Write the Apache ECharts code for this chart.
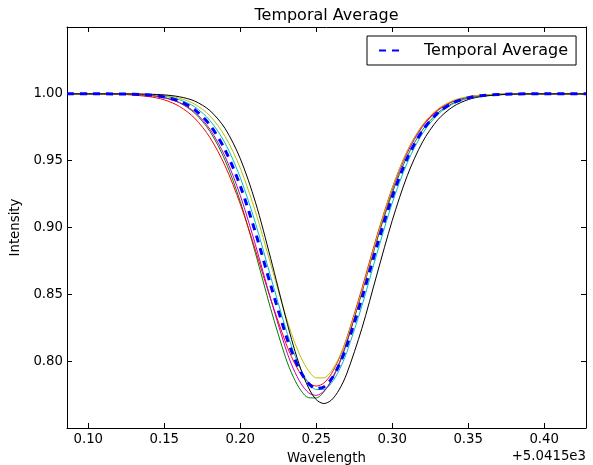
<!DOCTYPE html>
<html><head><meta charset="utf-8">
<script src="https://cdn.jsdelivr.net/npm/echarts@6/dist/echarts.min.js"></script>
<style>html,body{margin:0;padding:0;background:#fff}#c{width:593px;height:465px}</style>
</head><body><div id="c"></div>
<script>
// Wavelength offsets (relative to 5.0415e3)
const wavelength = [0.086, 0.10, 0.12, 0.14, 0.15, 0.16, 0.17, 0.18, 0.19, 0.20, 0.21, 0.22, 0.23, 0.235, 0.24, 0.245, 0.25, 0.255, 0.26, 0.265, 0.27, 0.28, 0.29, 0.30, 0.31, 0.32, 0.33, 0.34, 0.35, 0.36, 0.38, 0.40, 0.4275];

const frameGreen   = [1.0, 1.0, 0.9999, 0.9988, 0.9971, 0.9933, 0.9856, 0.9720, 0.9503, 0.9195, 0.8808, 0.8393, 0.8021, 0.7880, 0.7779, 0.7727, 0.7725, 0.7770, 0.7859, 0.7984, 0.8142, 0.8516, 0.8906, 0.9257, 0.9535, 0.9731, 0.9857, 0.9930, 0.9969, 0.9987, 0.9998, 1.0, 1.0];
const frameRed     = [1.0, 0.9999, 0.9997, 0.9979, 0.9955, 0.9906, 0.9818, 0.9674, 0.9462, 0.9176, 0.8830, 0.8465, 0.8135, 0.8002, 0.7901, 0.7838, 0.7814, 0.7836, 0.7906, 0.8019, 0.8170, 0.8542, 0.8940, 0.9296, 0.9574, 0.9764, 0.9881, 0.9945, 0.9977, 0.9991, 0.9999, 1.0, 1.0];
const frameCyan    = [1.0, 1.0, 0.9999, 0.9993, 0.9982, 0.9956, 0.9903, 0.9801, 0.9632, 0.9374, 0.9033, 0.8633, 0.8240, 0.8072, 0.7934, 0.7837, 0.7788, 0.7788, 0.7836, 0.7930, 0.8063, 0.8411, 0.8808, 0.9183, 0.9487, 0.9705, 0.9845, 0.9925, 0.9967, 0.9987, 0.9998, 1.0, 1.0];
const frameMagenta = [1.0, 1.0, 0.9999, 0.9989, 0.9972, 0.9935, 0.9864, 0.9736, 0.9531, 0.9240, 0.8870, 0.8466, 0.8091, 0.7942, 0.7832, 0.7763, 0.7744, 0.7775, 0.7854, 0.7976, 0.8132, 0.8513, 0.8917, 0.9278, 0.9560, 0.9756, 0.9875, 0.9942, 0.9975, 0.9990, 0.9999, 1.0, 1.0];
const frameYellow  = [1.0, 1.0, 1.0, 0.9996, 0.9987, 0.9967, 0.9923, 0.9836, 0.9682, 0.9445, 0.9118, 0.8728, 0.8336, 0.8165, 0.8027, 0.7927, 0.7875, 0.7875, 0.7927, 0.8027, 0.8165, 0.8527, 0.8928, 0.9292, 0.9576, 0.9769, 0.9886, 0.9950, 0.9979, 0.9992, 1.0, 1.0, 1.0];
const frameBlack   = [1.0, 1.0, 1.0, 0.9997, 0.9992, 0.9978, 0.9946, 0.9875, 0.9741, 0.9516, 0.9189, 0.8770, 0.8322, 0.8114, 0.7936, 0.7799, 0.7712, 0.7683, 0.7709, 0.7785, 0.7904, 0.8244, 0.8652, 0.9052, 0.9391, 0.9641, 0.9806, 0.9904, 0.9957, 0.9982, 0.9998, 1.0, 1.0];
const temporalAverage = [1.0, 1.0, 0.9999, 0.9991, 0.9976, 0.9945, 0.9882, 0.9767, 0.9581, 0.9312, 0.8963, 0.8570, 0.8196, 0.8039, 0.7915, 0.7832, 0.7796, 0.7807, 0.7867, 0.7970, 0.8112, 0.8469, 0.8864, 0.9228, 0.9521, 0.9726, 0.9857, 0.9932, 0.9970, 0.9988, 0.9999, 1.0, 1.0];

const xTicks = [0.10, 0.15, 0.20, 0.25, 0.30, 0.35, 0.40];
const yTicks = [0.80, 0.85, 0.90, 0.95, 1.00];

const FONT = 'DejaVu Sans';
const chart = echarts.init(document.getElementById('c'), null, {renderer: 'canvas'});
function pairs(ys) { return wavelength.map((x, i) => [x, ys[i]]); }

const frames = [
  {color: '#008000', data: frameGreen},
  {color: '#ff0000', data: frameRed},
  {color: '#00bfbf', data: frameCyan},
  {color: '#bf00bf', data: frameMagenta},
  {color: '#bfbf00', data: frameYellow},
  {color: '#000000', data: frameBlack}
];
const series = frames.map(f => ({
  type: 'line', data: pairs(f.data), symbol: 'none', smooth: 0.3,
  lineStyle: {color: f.color, width: 1}, itemStyle: {color: f.color},
  silent: true, z: 2
}));
series.push({
  name: 'Temporal Average', type: 'line', data: pairs(temporalAverage), symbol: 'none', smooth: 0.3,
  lineStyle: {color: '#0000ff', width: 3, type: [7, 6]}, itemStyle: {color: '#0000ff'}, z: 3
});

const tickStyle = {show: true, inside: true, length: 5, lineStyle: {color: '#000', width: 1}};
const lineStyle = {show: true, lineStyle: {color: '#000', width: 1}};
const labelFont = {color: '#000', fontFamily: FONT, fontSize: 13.3};

chart.setOption({
  animation: false,
  backgroundColor: '#fff',
  title: {
    text: 'Temporal Average', left: 326.5, top: 8, textAlign: 'center', padding: 0,
    textStyle: {fontFamily: FONT, fontSize: 16, fontWeight: 'normal', color: '#000'}
  },
  legend: {
    data: ['Temporal Average'], left: 367, top: 36,
    padding: [6, 8, 6, 11], itemWidth: 24, itemHeight: 12,
    itemStyle: {opacity: 0},
    borderColor: '#000', borderWidth: 1, borderRadius: 0, backgroundColor: '#fff',
    textStyle: {fontFamily: FONT, fontSize: 16, color: '#000', padding: [0, 0, 0, 16], lineHeight: 17}
  },
  grid: {left: 67, right: 7, top: 27, bottom: 37, containLabel: false, outerBoundsMode: 'none'},
  xAxis: [
    {
      type: 'value', position: 'bottom', min: 0.086, max: 0.4275,
      axisLine: lineStyle, splitLine: {show: false},
      axisTick: Object.assign({customValues: xTicks}, tickStyle),
      axisLabel: Object.assign({customValues: xTicks, formatter: v => v.toFixed(2), margin: 5}, labelFont),
      name: 'Wavelength', nameLocation: 'middle', nameGap: 24,
      nameTextStyle: {fontFamily: FONT, fontSize: 13.3, color: '#000'}
    },
    {
      type: 'value', position: 'top', min: 0.086, max: 0.4275,
      axisLine: lineStyle, splitLine: {show: false},
      axisTick: Object.assign({customValues: xTicks}, tickStyle),
      axisLabel: {show: false}
    }
  ],
  yAxis: [
    {
      type: 'value', position: 'left', min: 0.75, max: 1.05,
      axisLine: lineStyle, splitLine: {show: false},
      axisTick: Object.assign({customValues: yTicks}, tickStyle),
      axisLabel: Object.assign({customValues: yTicks, formatter: v => v.toFixed(2), margin: 4}, labelFont),
      name: 'Intensity', nameLocation: 'middle', nameGap: 37,
      nameTextStyle: {fontFamily: FONT, fontSize: 13.3, color: '#000'}
    },
    {
      type: 'value', position: 'right', min: 0.75, max: 1.05,
      axisLine: lineStyle, splitLine: {show: false},
      axisTick: Object.assign({customValues: yTicks}, tickStyle),
      axisLabel: {show: false}
    }
  ],
  graphic: [{
    type: 'text', right: 7, top: 450,
    style: {text: '+5.0415e3', font: '13.3px "DejaVu Sans"', fill: '#000'}
  }],
  series: series
});
</script></body></html>
